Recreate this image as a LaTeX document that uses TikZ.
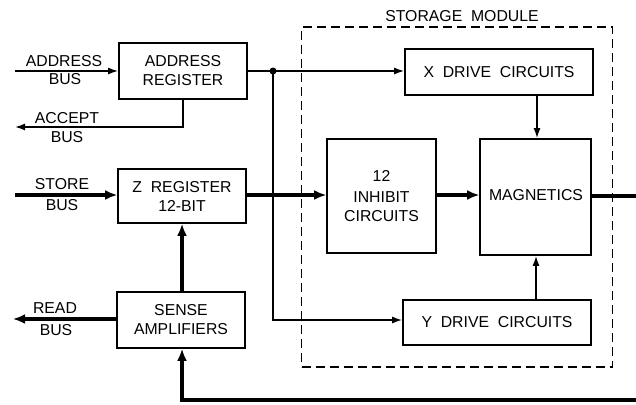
\documentclass[tikz,border=0pt]{standalone}
\usepackage{fontspec}
\setmainfont{Liberation Sans}
\usetikzlibrary{arrows.meta}
\begin{document}
\begin{tikzpicture}[x=1pt,y=-1pt,
  every node/.style={font=\fontsize{15.8}{19}\selectfont},
  blk/.style={draw,line width=1.6pt,align=center,inner sep=0pt},
  lbl/.style={align=center,inner sep=0pt},
  thin/.style={line width=1.6pt},
  thick/.style={line width=3.4pt},
  tarr/.style={thin,-{Latex[length=10pt,width=7pt]}},
  karr/.style={thick,-{Latex[length=12pt,width=10pt]}}]
\useasboundingbox (0,0) rectangle (636,404);
% blocks
\node[blk,minimum width=128pt,minimum height=56pt] (areg) at (183,71) {ADDRESS\\REGISTER};
\node[blk,minimum width=128pt,minimum height=54pt] (zreg) at (182,196) {Z\ \ REGISTER\\12-BIT};
\node[blk,minimum width=128pt,minimum height=56pt] (sense) at (181,320) {SENSE\\AMPLIFIERS};
\node[blk,minimum width=109pt,minimum height=114pt] (inh) at (381.5,196) {12\\[2pt]INHIBIT\\CIRCUITS};
\node[blk,minimum width=111pt,minimum height=116pt] (mag) at (535.5,197) {};
\node[lbl] (magt) at (536,195) {MAGNETICS};
\node[blk,minimum width=188pt,minimum height=46pt] (xdrv) at (499,72) {X\ \ DRIVE\ \ CIRCUITS};
\node[blk,minimum width=188pt,minimum height=45pt] (ydrv) at (497,322.5) {Y\ \ DRIVE\ \ CIRCUITS};
% storage module
\node[draw,dash pattern=on 9pt off 5pt,line width=1.5pt,minimum width=311pt,minimum height=340pt,inner sep=0pt] (stor) at (457,197) {};
\node[lbl] (stort) at (462,16) {STORAGE\ \ MODULE};
% bus labels
\node[lbl] (abus1) at (64,61) {ADDRESS};
\node[lbl] (abus2) at (65,79) {BUS};
\node[lbl] (cbus1) at (67,118) {ACCEPT};
\node[lbl] (cbus2) at (67,137) {BUS};
\node[lbl] (sbus1) at (62,184) {STORE};
\node[lbl] (sbus2) at (62,205) {BUS};
\node[lbl] (rbus1) at (55,308) {READ};
\node[lbl] (rbus2) at (56,330) {BUS};
% coordinates
\coordinate (ain) at (15,71);
\coordinate (acc) at (15,127);
\coordinate (sin) at (15,195);
\coordinate (rout) at (13,319);
\coordinate (j) at (273,71);
\coordinate (mout) at (636,196);
\coordinate (fb) at (636,400);
% connectors
\draw[tarr] (ain) -- (ain -| areg.west);
\draw[tarr] (areg.south) |- (acc);
\draw[karr] (sin) -- (sin -| zreg.west);
\draw[karr] (sense.west |- rout) -- (rout);
\draw[thin] (areg.east |- j) -- (j);
\draw[tarr] (j) -- (j -| xdrv.west);
\draw[tarr] (j) |- (ydrv.west |- 0,320);
\fill (j) circle (3.5pt);
\draw[karr] (zreg.east |- 0,195) -- (inh.west |- 0,195);
\draw[karr] (inh.east |- 0,195) -- (mag.west |- 0,195);
\draw[tarr] (xdrv.south -| 537,0) -- (mag.north -| 537,0);
\draw[tarr] (ydrv.north -| 536,0) -- (mag.south -| 536,0);
\draw[thick] (mag.east |- mout) -- (mout);
\draw[karr] (sense.north -| 182,0) -- (zreg.south -| 182,0);
\draw[karr] (fb) -| (sense.south -| 182,0);
\end{tikzpicture}
\end{document}
